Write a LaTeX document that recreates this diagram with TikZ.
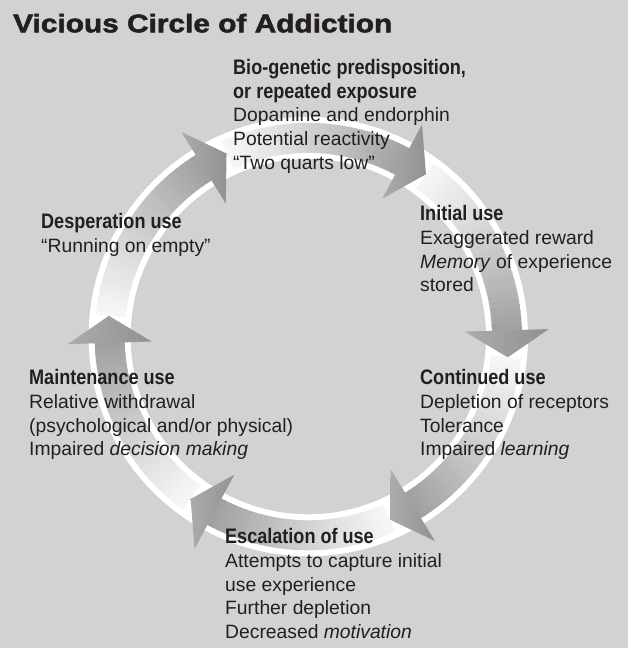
\documentclass[tikz,border=0pt]{standalone}
\usepackage{fontspec}
\setmainfont{Liberation Sans}
\newfontfamily\hdfont{Liberation Sans}[FakeStretch=0.86]
\newfontfamily\ttlfont{Liberation Sans}[FakeStretch=1.17,FakeBold=2]
\usetikzlibrary{calc}
\definecolor{bgcol}{RGB}{209,210,209}
\definecolor{ink}{RGB}{35,31,32}
\definecolor{ringdark}{RGB}{160,161,163}
\definecolor{arrL}{RGB}{170,171,173}
\definecolor{arrD}{RGB}{145,146,148}
\tikzset{
  tx/.style={anchor=base west, inner sep=0pt, text=ink, font=\fontsize{19.3}{23.7}\selectfont},
  hd/.style={anchor=base west, inner sep=0pt, text=ink, font=\hdfont\bfseries\fontsize{21}{24}\selectfont},
  ttl/.style={anchor=base west, inner sep=0pt, text=ink, font=\ttlfont\bfseries\fontsize{25.5}{30}\selectfont},
  rimline/.style={draw=white, line width=42pt},
}
\begin{document}
\begin{tikzpicture}[x=1pt,y=1pt]
\useasboundingbox (0,0) rectangle (628,648);
\fill[bgcol] (0,0) rectangle (628,648);
\coordinate (O) at (308.3,311.4);
% white rim of the ring
\draw[rimline] (O) circle[radius=198.7];
% gradient band segments
\foreach \k in {0,...,5}{
  \foreach \i in {0,...,29}{
    \pgfmathsetmacro\aa{1.8+60*\k-7.8-\i*52.2/30}
    \pgfmathsetmacro\bb{\aa-52.2/30-0.4}
    \pgfmathtruncatemacro\pc{10+90*(\i/29)^1.1}
    \draw[line width=30pt, draw=ringdark!\pc!white] ($(O)+(\aa:198.7)$) arc[start angle=\aa, end angle=\bb, radius=198.7];
  }
}
% arrowheads
\foreach \k in {0,...,5}{
  \pgfmathsetmacro\tb{1.8+60*\k}
  \coordinate (B\k) at ($(O)+(\tb:198.7)$);
  \coordinate (P\k) at ($(B\k)+(\tb:42)$);
  \coordinate (Q\k) at ($(B\k)+(\tb:-42)$);
  \coordinate (T\k) at ($(B\k)+(\tb-90:27)$);
  \shade[left color=arrL, right color=arrD] (P\k) -- (T\k) -- (Q\k) -- cycle;
}
% texts
\node[ttl] (title) at (13,615.7) {Vicious Circle of Addiction};
\node[hd] (t1) at (233,573.5) {Bio-genetic predisposition,};
\node[hd] (t2) at (233,549.8) {or repeated exposure};
\node[tx] (t3) at (233,526.1) {Dopamine and endorphin};
\node[tx] (t4) at (233,502.4) {Potential reactivity};
\node[tx] (t5) at (233,478.7) {“Two quarts low”};
\node[hd] (i1) at (420,427.3) {Initial use};
\node[tx] (i2) at (420,403.5) {Exaggerated reward};
\node[tx] (i3) at (420,379.8) {\textit{Memory} of experience};
\node[tx] (i4) at (420,356.1) {stored};
\node[hd] (d1) at (41,419.5) {Desperation use};
\node[tx] (d2) at (41,395.3) {“Running on empty”};
\node[hd] (m1) at (29,263.5) {Maintenance use};
\node[tx] (m2) at (29,239.7) {Relative withdrawal};
\node[tx] (m3) at (29,215.9) {(psychological and/or physical)};
\node[tx] (m4) at (29,192.1) {Impaired \textit{decision making}};
\node[hd] (c1) at (420,263) {Continued use};
\node[tx] (c2) at (420,239.4) {Depletion of receptors};
\node[tx] (c3) at (420,215.7) {Tolerance};
\node[tx] (c4) at (420,192) {Impaired \textit{learning}};
\node[hd] (e1) at (225,104.7) {Escalation of use};
\node[tx] (e2) at (225,80.7) {Attempts to capture initial};
\node[tx] (e3) at (225,56.9) {use experience};
\node[tx] (e4) at (225,33.1) {Further depletion};
\node[tx] (e5) at (225,9.3) {Decreased \textit{motivation}};
\end{tikzpicture}
\end{document}
